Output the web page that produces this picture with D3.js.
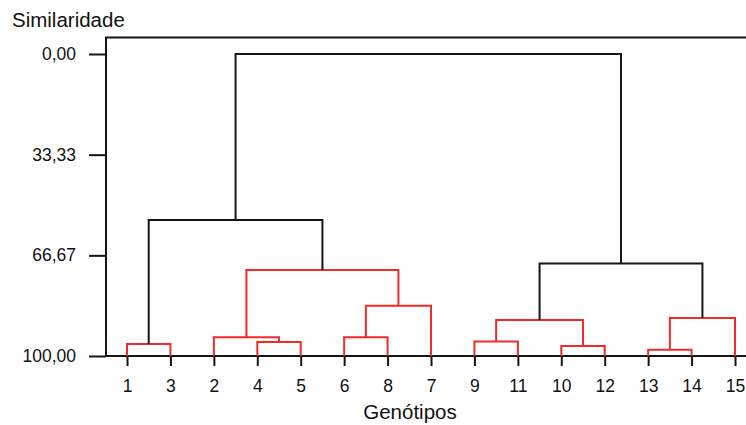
<!DOCTYPE html>
<html>
<head>
<meta charset="utf-8">
<script src="https://cdn.jsdelivr.net/npm/d3@7"></script>
<style>
  body { margin: 0; background: #fff; }
  svg { display: block; font-family: "Liberation Sans", Arial, sans-serif; }
</style>
</head>
<body>
<div id="chart"></div>
<script>
// leaf order along the x axis
const leaves = ["1", "3", "2", "4", "5", "6", "8", "7", "9", "11", "10", "12", "13", "14", "15"];

// merges: [name, childA, childB, similarity level]
const merges = [
    ["m0", "1", "3", 96.0],
    ["m1", "4", "5", 95.4],
    ["m2", "2", "m1", 93.8],
    ["m3", "6", "8", 93.8],
    ["m4", "m3", "7", 83.4],
    ["m5", "m2", "m4", 71.5],
    ["m6", "m0", "m5", 55.0],
    ["m7", "9", "11", 95.2],
    ["m8", "10", "12", 96.7],
    ["m9", "m7", "m8", 88.1],
    ["m10", "13", "14", 97.9],
    ["m11", "m10", "15", 87.4],
    ["m12", "m9", "m11", 69.4],
    ["m13", "m6", "m12", 0]
];

// merges drawn in black (the rest are red groups)
const blackMerges = ["m6", "m12", "m13"];

const yTicks = [0, 33.33, 66.67, 100];

const width = 746, height = 425;
const frameLeft = 106, frameTop = 37.5, frameRight = 746, frameBottom = 356;

const svg = d3.select("#chart").append("svg")
    .attr("width", width)
    .attr("height", height);

let x = d3.scalePoint()
    .domain(leaves)
    .range([127, 735]);

let y = d3.scaleLinear()
    .domain([0, 100])
    .range([54, 356]);

// frame: top and left lines, baseline
svg.append("path")
    .attr("d", "M" + frameRight + "," + frameTop + "H" + frameLeft + "V" + frameBottom + "H" + frameRight)
    .attr("fill", "none")
    .attr("stroke", "#151515")
    .attr("stroke-width", 2);

// y axis
let yAxis = svg.append("g")
    .attr("transform", "translate(" + frameLeft + ",0)")
    .call(d3.axisLeft(y)
        .tickValues(yTicks)
        .tickSize(17)
        .tickPadding(13)
        .tickFormat(d => d3.format(".2f")(d).replace(".", ",")));
yAxis.select(".domain").remove();
yAxis.selectAll(".tick line").attr("stroke", "#151515").attr("stroke-width", 2);
yAxis.selectAll(".tick text").attr("font-size", 17.5).attr("fill", "#111")
    .attr("font-family", "Liberation Sans, Arial, sans-serif");

// x axis
let xAxis = svg.append("g")
    .attr("transform", "translate(0," + frameBottom + ")")
    .call(d3.axisBottom(x).tickSize(10).tickPadding(14));
xAxis.select(".domain").remove();
xAxis.selectAll(".tick line").attr("stroke", "#151515").attr("stroke-width", 2);
xAxis.selectAll(".tick text").attr("font-size", 17.5).attr("fill", "#111")
    .attr("font-family", "Liberation Sans, Arial, sans-serif");

// compute node positions
let pos = {};
leaves.forEach(function(l) {
    pos[l] = {x: x(l), y: y(100)};
});

merges.forEach(function(m) {
    let a = pos[m[1]], b = pos[m[2]];
    let yy = y(m[3]);
    pos[m[0]] = {x: (a.x + b.x) / 2, y: yy};
    svg.append("path")
        .attr("d", "M" + a.x + "," + a.y + "V" + yy + "H" + b.x + "V" + b.y)
        .attr("fill", "none")
        .attr("stroke", blackMerges.includes(m[0]) ? "#151515" : "#f22a2a")
        .attr("stroke-width", 2);
});

// titles
svg.append("text")
    .attr("x", 12)
    .attr("y", 27)
    .attr("font-size", 20.5)
    .attr("fill", "#111")
    .text("Similaridade");

svg.append("text")
    .attr("x", 410)
    .attr("y", 419)
    .attr("text-anchor", "middle")
    .attr("font-size", 20.5)
    .attr("fill", "#111")
    .text("Genótipos");
</script>
</body>
</html>
